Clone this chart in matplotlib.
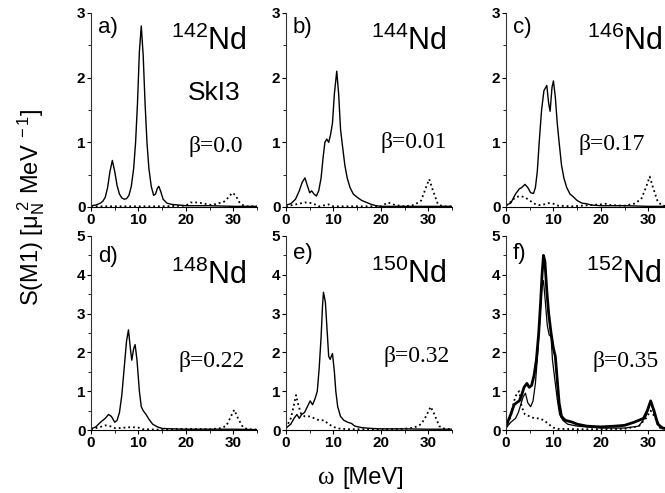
import numpy as np
import matplotlib.pyplot as plt
from matplotlib.ticker import MultipleLocator

## DATA (omega in MeV, S(M1) in mu_N^2/MeV)

# a) 142Nd
a_sol_x = [0, 1, 2, 2.5, 3.0, 3.5, 4.0, 4.5, 5.0, 5.5, 6.0, 6.5, 7.0, 7.5, 8.0, 8.5, 9.0, 9.4, 9.8, 10.2, 10.6, 11.0, 11.4, 11.8, 12.2, 12.7, 13.2, 13.6, 14.0, 14.3, 14.7, 15.2, 16, 17, 20, 25, 30, 35]
a_sol_y = [0.02, 0.03, 0.06, 0.09, 0.15, 0.3, 0.55, 0.72, 0.55, 0.33, 0.2, 0.14, 0.12, 0.13, 0.18, 0.32, 0.6, 1.0, 1.6, 2.4, 2.8, 2.35, 1.6, 1.0, 0.6, 0.32, 0.18, 0.2, 0.29, 0.32, 0.24, 0.12, 0.06, 0.04, 0.02, 0.02, 0.01, 0.01]
a_dot_x = [0, 5, 10, 15, 20, 21, 22.5, 24, 25.5, 27, 28, 29, 29.8, 30.5, 31.2, 32, 33, 35]
a_dot_y = [0.01, 0.01, 0.01, 0.01, 0.02, 0.07, 0.07, 0.05, 0.03, 0.06, 0.08, 0.15, 0.22, 0.18, 0.08, 0.03, 0.01, 0.01]

# b) 144Nd
b_sol_x = [0, 1, 2, 2.8, 3.4, 4.0, 4.5, 5.0, 5.4, 5.9, 6.4, 6.9, 7.4, 7.8, 8.2, 8.6, 9.0, 9.4, 9.8, 10.2, 10.7, 11.1, 11.5, 11.9, 12.4, 12.9, 13.5, 14.2, 15, 16, 17, 18, 19, 20, 25, 35]
b_sol_y = [0.03, 0.05, 0.12, 0.25, 0.38, 0.45, 0.33, 0.22, 0.25, 0.2, 0.17, 0.25, 0.45, 0.75, 1.0, 1.05, 1.0, 1.12, 1.3, 1.75, 2.1, 1.75, 1.2, 0.95, 0.65, 0.45, 0.3, 0.2, 0.15, 0.1, 0.07, 0.04, 0.02, 0.01, 0.01, 0.01]
b_dot_x = [0, 2, 4, 5.5, 7, 9, 10, 15, 20, 21.5, 23, 25, 27, 28.5, 29.5, 30.2, 31, 32, 33, 35]
b_dot_y = [0.01, 0.04, 0.07, 0.06, 0.01, 0.04, 0.01, 0.01, 0.01, 0.07, 0.03, 0.01, 0.03, 0.1, 0.3, 0.43, 0.25, 0.05, 0.01, 0.01]

# c) 146Nd
c_sol_x = [0, 1, 2, 2.8, 3.3, 4.0, 4.6, 5.2, 5.8, 6.2, 6.6, 7.0, 7.5, 8.0, 8.6, 9.0, 9.3, 9.7, 10.0, 10.4, 10.8, 11.2, 11.7, 12.2, 12.8, 13.5, 14, 15, 16, 17, 18, 20, 25, 30, 35]
c_sol_y = [0.03, 0.06, 0.2, 0.28, 0.3, 0.35, 0.3, 0.22, 0.21, 0.3, 0.55, 1.0, 1.5, 1.8, 1.88, 1.6, 1.48, 1.85, 1.95, 1.7, 1.3, 1.0, 0.65, 0.45, 0.3, 0.2, 0.17, 0.1, 0.06, 0.05, 0.03, 0.02, 0.02, 0.01, 0.01]
c_dot_x = [0, 1, 2, 3, 4, 5, 6, 7, 8, 9, 10, 11, 14, 20, 21, 22, 25, 27, 28.5, 29.5, 30.3, 31, 32, 33, 35]
c_dot_y = [0.02, 0.08, 0.15, 0.17, 0.15, 0.1, 0.05, 0.03, 0.04, 0.06, 0.05, 0.02, 0.01, 0.04, 0.05, 0.03, 0.02, 0.05, 0.12, 0.3, 0.47, 0.3, 0.08, 0.02, 0.01]

# d) 148Nd
d_sol_x = [0, 1, 2, 3, 3.7, 4.3, 5, 5.5, 6, 6.5, 7.0, 7.5, 7.9, 8.3, 8.6, 9.0, 9.3, 9.7, 10.2, 10.6, 11.0, 11.6, 12.2, 13, 14, 15, 17, 20, 25, 30, 35]
d_sol_y = [0.03, 0.08, 0.2, 0.3, 0.4, 0.35, 0.2, 0.25, 0.45, 0.9, 1.6, 2.3, 2.58, 2.1, 1.8, 2.1, 2.2, 1.8, 1.0, 0.6, 0.5, 0.4, 0.28, 0.15, 0.08, 0.04, 0.03, 0.02, 0.02, 0.02, 0.01]
d_dot_x = [0, 2, 3, 4, 5, 6, 8, 9, 10, 11, 14, 20, 25, 27, 28.5, 29.5, 30.2, 31, 32, 33, 35]
d_dot_y = [0.02, 0.08, 0.12, 0.1, 0.05, 0.05, 0.07, 0.07, 0.06, 0.02, 0.01, 0.03, 0.02, 0.04, 0.1, 0.35, 0.52, 0.3, 0.08, 0.02, 0.01]

# e) 150Nd
e_sol_x = [0, 1, 1.7, 2.3, 2.8, 3.3, 3.9, 4.5, 5.1, 5.6, 6.1, 6.6, 7.0, 7.4, 7.7, 7.9, 8.3, 8.7, 9.0, 9.3, 9.8, 10.2, 10.5, 10.9, 11.5, 12.2, 13, 13.8, 14.5, 16, 18, 20, 25, 30, 35]
e_sol_y = [0.05, 0.15, 0.3, 0.4, 0.3, 0.4, 0.45, 0.6, 0.75, 0.65, 0.8, 1.0, 1.6, 2.4, 3.2, 3.55, 3.3, 2.5, 1.9, 1.82, 1.97, 1.5, 1.0, 0.6, 0.35, 0.25, 0.2, 0.17, 0.1, 0.06, 0.04, 0.03, 0.03, 0.02, 0.02]
e_dot_x = [0, 1, 1.6, 2.1, 2.6, 3.2, 4, 5, 6, 7, 8, 9, 10, 11, 13, 20, 25, 27, 28.5, 29.5, 30.5, 31.3, 32.3, 33.5, 35]
e_dot_y = [0.05, 0.3, 0.6, 0.9, 0.65, 0.4, 0.35, 0.35, 0.3, 0.25, 0.25, 0.15, 0.08, 0.04, 0.02, 0.02, 0.03, 0.06, 0.15, 0.35, 0.6, 0.4, 0.1, 0.03, 0.02]

# f) 152Nd (two solid curves: thick and thin)
f_thick_x = [0, 1, 1.7, 2.2, 2.8, 3.3, 3.8, 4.4, 4.9, 5.4, 5.9, 6.4, 6.9, 7.3, 7.6, 7.9, 8.2, 8.6, 9.0, 9.5, 10.0, 10.4, 10.8, 11.2, 11.7, 12.5, 14, 15, 17, 20, 23, 25, 27, 28, 29, 29.8, 30.5, 31.2, 32, 33, 35]
f_thick_y = [0.1, 0.4, 0.65, 0.7, 0.75, 0.9, 1.1, 1.2, 1.1, 1.15, 1.4, 1.8, 2.5, 3.3, 4.0, 4.5, 4.35, 3.6, 3.0, 2.5, 2.1, 1.9, 1.3, 0.7, 0.35, 0.25, 0.2, 0.15, 0.1, 0.08, 0.1, 0.12, 0.2, 0.25, 0.3, 0.5, 0.75, 0.5, 0.15, 0.05, 0.02]
f_thin_x = [0, 1, 2, 2.6, 3.1, 3.6, 4.1, 4.6, 5.2, 5.7, 6.2, 6.7, 7.2, 7.6, 7.9, 8.3, 8.7, 9.1, 9.5, 9.8, 10.3, 10.8, 11.3, 12, 13, 15, 20, 25, 28, 29.5, 30.5, 31.3, 32.5, 35]
f_thin_y = [0.05, 0.2, 0.3, 0.45, 0.65, 0.85, 0.95, 0.7, 0.6, 0.75, 1.2, 2.0, 3.0, 3.7, 3.85, 3.3, 2.7, 2.45, 2.4, 1.8, 1.3, 0.8, 0.4, 0.25, 0.15, 0.1, 0.05, 0.05, 0.1, 0.35, 0.72, 0.4, 0.08, 0.02]
f_dot_x = [0, 1, 1.7, 2.3, 2.8, 3.3, 4, 5, 6, 7, 8, 9, 10, 11, 15, 20, 25, 28, 29.5, 30.5, 31.3, 32.5, 35]
f_dot_y = [0.05, 0.35, 0.75, 0.95, 1.0, 0.6, 0.4, 0.35, 0.3, 0.3, 0.25, 0.15, 0.06, 0.03, 0.02, 0.02, 0.03, 0.1, 0.3, 0.5, 0.35, 0.05, 0.02]

panel_tags = ['a)', 'b)', 'c)', 'd)', 'e)', 'f)']
mass_numbers = ['142', '144', '146', '148', '150', '152']
betas = ['0.0', '0.01', '0.17', '0.22', '0.32', '0.35']
ymaxes = [3, 3, 3, 5, 5, 5]

## FIGURE

W, H = 665, 493
SERIF = ['Liberation Serif', 'DejaVu Serif']
plt.rcParams['font.family'] = ['Liberation Sans', 'DejaVu Sans']
plt.rcParams['mathtext.fontset'] = 'custom'
plt.rcParams['mathtext.rm'] = 'Liberation Sans'
plt.rcParams['mathtext.it'] = 'Liberation Sans'
fig = plt.figure(figsize=(W / 100, H / 100), dpi=100)

# axes geometry in pixels (origin of each panel, size)
lefts = [91, 286, 506]
bottoms = [207, 430]
ax_w, ax_h = 166, 194

# text placement in pixels relative to panel origin
nd_right = [156, 161, 157, 156, 161, 156]
nd_base = [50, 50, 50, 284, 283, 283]
beta_left = [97, 94, 72, 87, 97, 87]
beta_base = [152, 148, 150, 367, 362, 367]
tag_top = [17, 17, 17, 246, 243, 243]


def panel(ax, ymax):
    ax.set_xlim(0, 35)
    ax.set_ylim(0, ymax)
    for s in ['top', 'right']:
        ax.spines[s].set_visible(False)
    ax.spines['left'].set_color('#333333')
    ax.xaxis.set_major_locator(MultipleLocator(10))
    ax.xaxis.set_minor_locator(MultipleLocator(5))
    ax.yaxis.set_major_locator(MultipleLocator(1))
    ax.yaxis.set_minor_locator(MultipleLocator(0.5))
    ax.tick_params(which='major', length=3, width=0.8, pad=1, labelsize=11)
    ax.tick_params(which='minor', length=2, width=0.6)
    for lab in ax.get_xticklabels() + ax.get_yticklabels():
        lab.set_fontweight('bold')
    ax.patch.set_alpha(0)


series = [
    [(a_sol_x, a_sol_y, '-', 1.0), (a_dot_x, a_dot_y, ':', 1.3)],
    [(b_sol_x, b_sol_y, '-', 1.0), (b_dot_x, b_dot_y, ':', 1.3)],
    [(c_sol_x, c_sol_y, '-', 1.0), (c_dot_x, c_dot_y, ':', 1.3)],
    [(d_sol_x, d_sol_y, '-', 1.0), (d_dot_x, d_dot_y, ':', 1.3)],
    [(e_sol_x, e_sol_y, '-', 1.0), (e_dot_x, e_dot_y, ':', 1.3)],
    [(f_thick_x, f_thick_y, '-', 2.0), (f_thin_x, f_thin_y, '-', 0.9), (f_dot_x, f_dot_y, ':', 1.3)],
]

axes = []
for i in range(6):
    r, c = divmod(i, 3)
    x0, y0 = lefts[c], bottoms[r]
    ax = fig.add_axes([x0 / W, 1 - y0 / H, ax_w / W, ax_h / H])
    for x, y, ls, lw in series[i]:
        ax.plot(x, y, ls, color='black', lw=lw)
    panel(ax, ymaxes[i])

    # labels inside panel, placed in figure pixels
    fig.text((x0 + 7) / W, 1 - tag_top[i] / H, panel_tags[i], fontsize=16, va='top', ha='left')
    fig.text((x0 + nd_right[i]) / W, 1 - nd_base[i] / H, r'$^{%s}$Nd' % mass_numbers[i],
             fontsize=22, va='baseline', ha='right')
    fig.text((x0 + beta_left[i]) / W, 1 - beta_base[i] / H, 'β=' + betas[i], fontsize=17,
             ha='left', va='baseline', family=SERIF)
    axes.append(ax)

fig.text(188 / W, 1 - 100 / H, 'SkI3', fontsize=19, ha='left', va='baseline')

fig.text(31 / W, 1 - 207 / H, r'S(M1) [μ$_N^{\ 2}$ MeV$^{\ -1}$]', rotation=90,
         fontsize=17, ha='center', va='center')
# omega in serif, unit in sans
fig.text(326 / W, 1 - 478 / H, 'ω', fontsize=18, ha='center', va='center', family=SERIF)
fig.text(342 / W, 1 - 478 / H, '[MeV]', fontsize=17, ha='left', va='center')

fig.savefig('out.png', dpi=100)
